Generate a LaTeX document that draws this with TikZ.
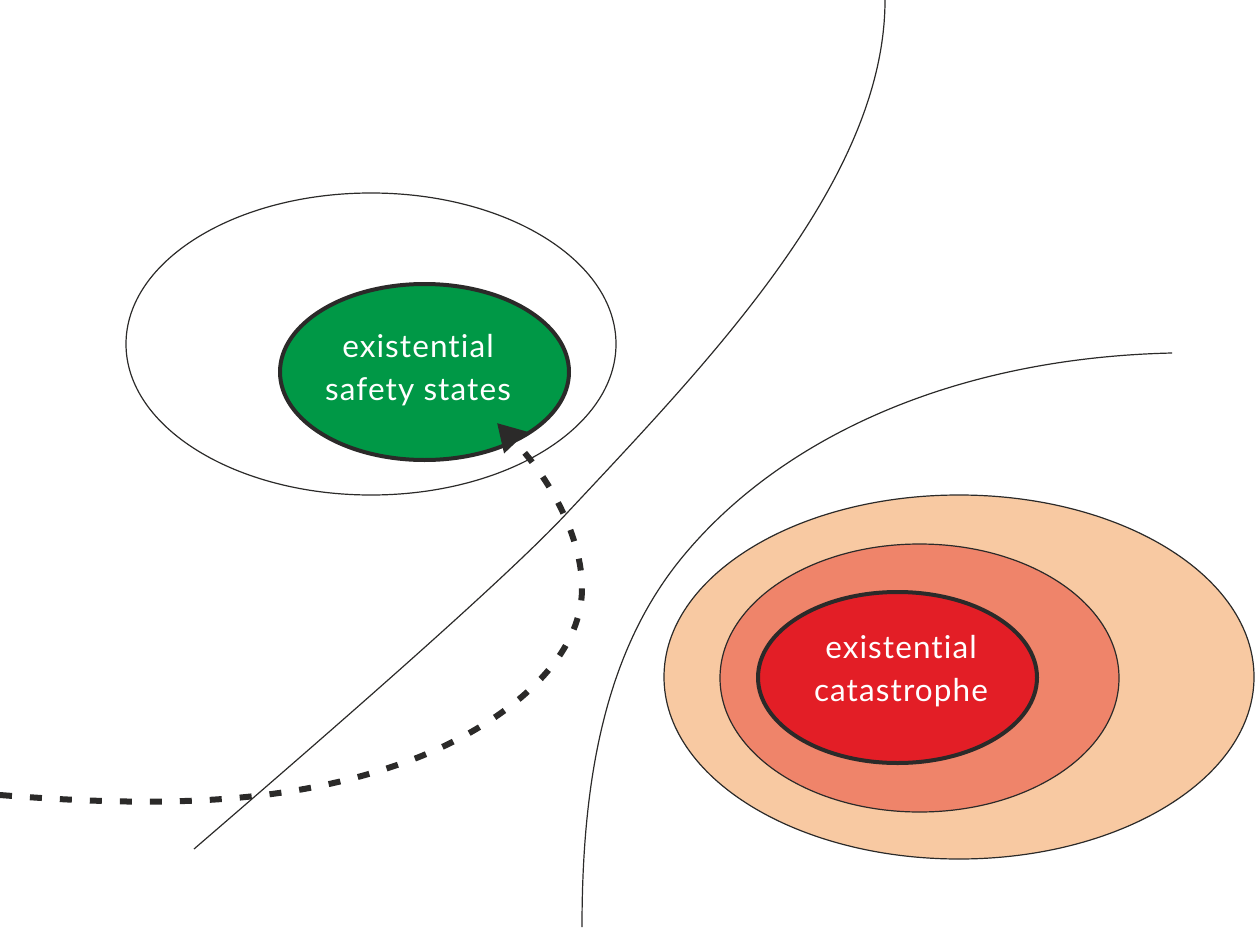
\documentclass[tikz,border=0pt]{standalone}
\usepackage{fontspec}
\setmainfont{Lato}[LetterSpace=3.5, Ligatures=NoCommon]
\usetikzlibrary{shapes.geometric,arrows.meta}
\definecolor{ink}{HTML}{2B2A29}
\definecolor{safegreen}{HTML}{009846}
\definecolor{catred}{HTML}{E31E26}
\definecolor{midorange}{HTML}{EF846A}
\definecolor{lightorange}{HTML}{F8C9A2}
\tikzset{
  thinline/.style={draw=ink, line width=1.2pt},
  region/.style={ellipse, inner sep=0pt, draw=ink, line width=1.2pt},
  core/.style={ellipse, inner sep=0pt, draw=ink, line width=4pt},
  label/.style={text=white, align=center, font=\fontsize{31.5}{43}\selectfont, inner sep=0pt},
  pathline/.style={draw=ink, line width=6pt, dash pattern=on 12pt off 18pt}
}
\begin{document}
\begin{tikzpicture}[x=1pt,y=-1pt]
\useasboundingbox (0,0) rectangle (1255,928);
% left basin
\node[region, minimum width=490pt, minimum height=302pt] (basin) at (371,344) {};
% boundary curves
\coordinate (b1top) at (885,0);
\coordinate (b1mid) at (567,513);
\coordinate (b1end) at (194,849);
\draw[thinline] (b1top) .. controls (885,180) and (710,360) .. (b1mid)
                        .. controls (499,586) and (296,761) .. (b1end);
\coordinate (b2top) at (1172,353);
\coordinate (b2mid) at (680,560);
\coordinate (b2end) at (582,927);
\draw[thinline] (b2top) .. controls (950,358) and (777,440) .. (b2mid)
                        .. controls (605,653) and (582,780) .. (b2end);
% right regions
\node[region, fill=lightorange, minimum width=590pt, minimum height=364pt] (outer) at (959,677) {};
\node[region, fill=midorange, minimum width=399pt, minimum height=268pt] (middle) at (919.5,678) {};
\node[core, fill=catred, minimum width=279pt, minimum height=171pt] (cat) at (897.5,677.5) {};
\node[label] (catlabel) at (901,671) {existential\\catastrophe};
% green core
\node[core, fill=safegreen, minimum width=289pt, minimum height=176pt] (safe) at (424.5,372) {};
\node[label] (safelabel) at (418,370) {existential\\safety states};
% trajectory
\coordinate (start) at (0,795);
\coordinate (p1) at (400,764);
\coordinate (p2) at (582,588);
\coordinate (tip) at (497,423);
\draw[pathline, -{Triangle[length=27pt,width=30pt]}]
  (start) .. controls (150,807) and (280,806) .. (p1)
          .. controls (485,735) and (582,670) .. (p2)
          .. controls (582,540) and (553,482) .. (tip);
\end{tikzpicture}
\end{document}
